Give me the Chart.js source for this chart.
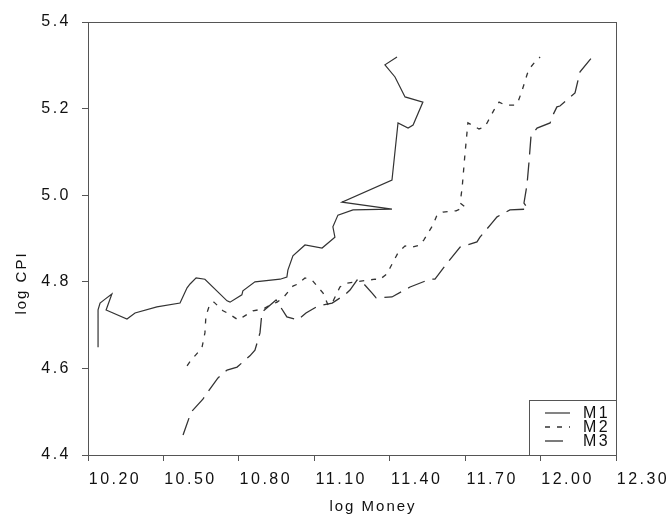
<!DOCTYPE html>
<html>
<head>
<meta charset="utf-8">
<script src="https://cdn.jsdelivr.net/npm/chart.js@4/dist/chart.umd.min.js"></script>
<style>
  body { margin: 0; background: #fff; }
  #wrap { width: 668px; height: 515px; }
</style>
</head>
<body>
<div id="wrap"><canvas id="chart" width="668" height="515"></canvas></div>
<script>
// log Money / log CPI pairs
const m1Money = [10.140, 10.140, 10.148, 10.168, 10.195, 10.172, 10.255, 10.287, 10.374, 10.466,
  10.494, 10.506, 10.530, 10.565, 10.653, 10.665, 10.712, 10.716, 10.764, 10.864,
  10.891, 10.895, 10.915, 10.963, 11.031, 11.082, 11.074, 11.094, 11.154, 11.309,
  11.110, 11.309, 11.333, 11.373, 11.393, 11.432, 11.361, 11.321, 11.281, 11.329];
const m1Cpi = [4.649, 4.735, 4.751, 4.760, 4.772, 4.735, 4.714, 4.728, 4.742, 4.751,
  4.786, 4.795, 4.809, 4.806, 4.756, 4.753, 4.770, 4.779, 4.800, 4.806,
  4.811, 4.827, 4.860, 4.885, 4.878, 4.903, 4.927, 4.954, 4.966, 4.968,
  4.984, 5.035, 5.167, 5.155, 5.162, 5.215, 5.227, 5.273, 5.301, 5.319];

const m2Money = [10.494, 10.510, 10.553, 10.565, 10.569, 10.585, 10.601, 10.637, 10.661, 10.697,
  10.717, 10.756, 10.796, 10.824, 10.852, 10.876, 10.915, 10.935, 10.963, 10.991,
  11.035, 11.055, 11.071, 11.102, 11.130, 11.242, 11.257, 11.289, 11.301, 11.333,
  11.361, 11.389, 11.420, 11.436, 11.472, 11.488, 11.512, 11.564, 11.599, 11.580,
  11.588, 11.599, 11.611, 11.655, 11.679, 11.715, 11.735, 11.759, 11.798, 11.810,
  11.826, 11.846, 11.854, 11.878, 11.898];
const m2Cpi = [4.606, 4.619, 4.647, 4.682, 4.721, 4.749, 4.753, 4.733, 4.726, 4.712,
  4.719, 4.733, 4.737, 4.746, 4.753, 4.763, 4.790, 4.795, 4.809, 4.804,
  4.774, 4.746, 4.751, 4.788, 4.797, 4.806, 4.804, 4.818, 4.832, 4.867,
  4.883, 4.880, 4.885, 4.897, 4.931, 4.954, 4.961, 4.964, 4.973, 4.982,
  5.017, 5.093, 5.167, 5.153, 5.158, 5.197, 5.215, 5.208, 5.208, 5.215,
  5.241, 5.278, 5.291, 5.308, 5.319];

const m3Money = [10.478, 10.510, 10.557, 10.573, 10.617, 10.653, 10.693, 10.744, 10.764, 10.784,
  10.792, 10.848, 10.891, 10.935, 10.967, 11.015, 11.071, 11.122, 11.142, 11.170,
  11.194, 11.230, 11.246, 11.309, 11.381, 11.460, 11.480, 11.528, 11.580, 11.647,
  11.659, 11.707, 11.727, 11.778, 11.850, 11.834, 11.846, 11.854, 11.862, 11.886,
  11.938, 11.949, 11.965, 11.977, 12.037, 12.057, 12.105];
const m3Cpi = [4.446, 4.499, 4.529, 4.543, 4.578, 4.596, 4.603, 4.629, 4.642, 4.682,
  4.730, 4.758, 4.719, 4.712, 4.728, 4.744, 4.751, 4.770, 4.781, 4.804,
  4.797, 4.774, 4.763, 4.765, 4.788, 4.806, 4.806, 4.843, 4.880, 4.892,
  4.903, 4.936, 4.950, 4.966, 4.968, 4.982, 5.024, 5.077, 5.137, 5.155,
  5.167, 5.185, 5.204, 5.206, 5.236, 5.285, 5.319];

const seriesNames = ['M1', 'M2', 'M3'];
// tick marks sit at 10.10, 10.40 ... but the printed labels read 0.10 higher
const xTicks = [10.1, 10.4, 10.7, 11.0, 11.3, 11.6, 11.9, 12.2];
const yTicks = [4.4, 4.6, 4.8, 5.0, 5.2, 5.4];
const xTitle = 'log Money';
const yTitle = 'log CPI';

const FONT = '"Liberation Sans", Arial, sans-serif';
const INK = '#111';

function pairs(xs, ys) {
  return xs.map((x, i) => ({ x: x, y: ys[i] }));
}

// spaced-out lettering like the original labels
const spacing = {
  id: 'spacing',
  beforeDraw(chart) { chart.ctx.letterSpacing = '2.5px'; }
};

// plot frame, axis titles and the boxed legend in the lower right
const frame = {
  id: 'frame',
  afterDraw(chart) {
    const ctx = chart.ctx;
    const a = chart.chartArea;
    ctx.save();
    ctx.strokeStyle = '#555';
    ctx.lineWidth = 1;
    ctx.strokeRect(a.left + 0.5, a.top + 0.5, a.right - a.left, a.bottom - a.top);

    ctx.fillStyle = INK;
    ctx.font = '15px ' + FONT;
    ctx.letterSpacing = '2px';
    ctx.textAlign = 'center';
    ctx.textBaseline = 'middle';
    ctx.fillText(xTitle, 373, 507);
    ctx.save();
    ctx.translate(22, 283);
    ctx.rotate(-Math.PI / 2);
    ctx.fillText(yTitle, 0, 0);
    ctx.restore();

    const bx = 529, by = 400, bw = a.right - 529, bh = a.bottom - 400;
    ctx.fillStyle = '#fff';
    ctx.fillRect(bx, by, bw, bh);
    ctx.strokeRect(bx + 0.5, by + 0.5, bw, bh);

    ctx.font = '16px ' + FONT;
    ctx.letterSpacing = '2.5px';
    ctx.textAlign = 'left';
    chart.data.datasets.forEach((ds, i) => {
      const y = 413 + i * 14;
      ctx.strokeStyle = ds.borderColor;
      ctx.lineWidth = ds.borderWidth;
      ctx.setLineDash(ds.borderDash || []);
      ctx.beginPath();
      ctx.moveTo(545, y);
      ctx.lineTo(570, y);
      ctx.stroke();
      ctx.setLineDash([]);
      ctx.fillStyle = INK;
      ctx.fillText(ds.label, 583, y + 1);
    });
    ctx.restore();
  }
};

new Chart(document.getElementById('chart'), {
  type: 'line',
  data: {
    datasets: [
      { label: seriesNames[0], data: pairs(m1Money, m1Cpi), borderColor: '#333', borderWidth: 1.2 },
      { label: seriesNames[1], data: pairs(m2Money, m2Cpi), borderColor: '#333', borderWidth: 1.3, borderDash: [5, 7] },
      { label: seriesNames[2], data: pairs(m3Money, m3Cpi), borderColor: '#333', borderWidth: 1.3, borderDash: [18, 8] }
    ]
  },
  options: {
    responsive: false,
    animation: false,
    devicePixelRatio: 1,
    layout: { padding: { top: 22, right: 52, left: 0, bottom: 0 } },
    elements: { point: { radius: 0 }, line: { tension: 0 } },
    plugins: { legend: { display: false }, tooltip: { enabled: false } },
    scales: {
      x: {
        type: 'linear',
        min: 10.1,
        max: 12.2,
        afterBuildTicks: s => { s.ticks = xTicks.map(v => ({ value: v })); },
        afterFit: s => { s.height = 60; },
        border: { color: '#555', width: 1 },
        grid: { drawOnChartArea: false, tickLength: 6, color: '#555' },
        ticks: {
          color: INK,
          font: { family: FONT, size: 16 },
          padding: 9,
          labelOffset: 27,
          maxRotation: 0,
          autoSkip: false,
          callback: v => (v + 0.1).toFixed(2)
        }
      },
      y: {
        type: 'linear',
        min: 4.4,
        max: 5.4,
        afterBuildTicks: s => { s.ticks = yTicks.map(v => ({ value: v })); },
        afterFit: s => { s.width = 88; },
        border: { color: '#555', width: 1 },
        grid: { drawOnChartArea: false, tickLength: 6, color: '#555' },
        ticks: {
          color: INK,
          font: { family: FONT, size: 16 },
          padding: 11,
          callback: v => v.toFixed(1)
        }
      }
    }
  },
  plugins: [spacing, frame]
});
</script>
</body>
</html>
